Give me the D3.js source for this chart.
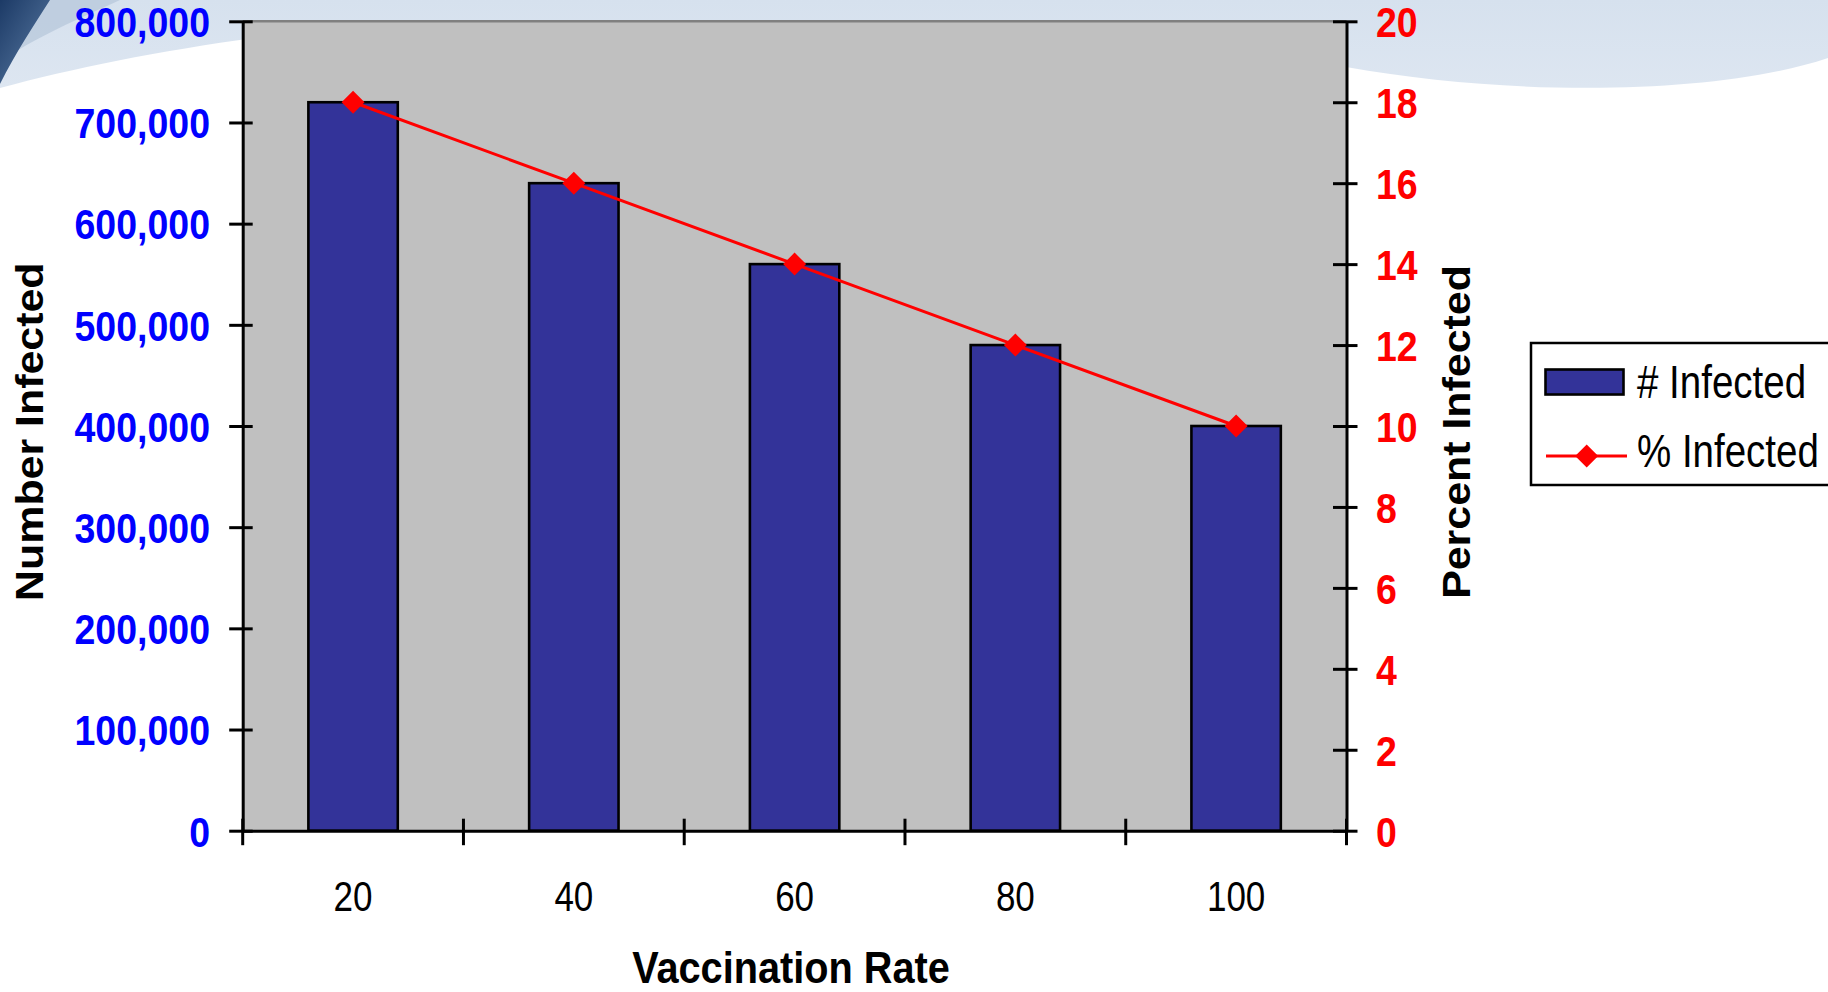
<!DOCTYPE html>
<html>
<head>
<meta charset="utf-8">
<script src="https://cdn.jsdelivr.net/npm/d3@7"></script>
<style>
  html, body { margin: 0; padding: 0; background: #ffffff; }
  svg { display: block; }
  text { font-family: "Liberation Sans", Arial, sans-serif; }
</style>
</head>
<body>
<svg id="chart" width="1828" height="992"></svg>
<script>
// Vaccination rate categories and the two series
const categories = ["20", "40", "60", "80", "100"];
const numberInfected = [720000, 640000, 560000, 480000, 400000];
const percentInfected = [18, 16, 14, 12, 10];
const leftTicks = [0, 100000, 200000, 300000, 400000, 500000, 600000, 700000, 800000];
const rightTicks = [0, 2, 4, 6, 8, 10, 12, 14, 16, 18, 20];
const seriesNames = ["# Infected", "% Infected"];

const W = 1828, H = 992;
const plot = { left: 242.7, right: 1346.5, top: 21.3, bottom: 830.7 };

const svg = d3.select("#chart");

// Slide backdrop: light blue swoosh along the top with a dark corner
const defs = svg.append("defs");
const cornerGrad = defs.append("linearGradient").attr("id", "cornerGrad")
  .attr("x1", "0").attr("y1", "0").attr("x2", "1").attr("y2", "1");
cornerGrad.append("stop").attr("offset", "0").attr("stop-color", "#1c3a66");
cornerGrad.append("stop").attr("offset", "1").attr("stop-color", "#5d7ea6");
const bandGrad = defs.append("linearGradient").attr("id", "bandGrad")
  .attr("x1", "0").attr("y1", "0").attr("x2", "0").attr("y2", "1");
bandGrad.append("stop").attr("offset", "0").attr("stop-color", "#d6e1ee");
bandGrad.append("stop").attr("offset", "1").attr("stop-color", "#dde6f1");

svg.append("rect").attr("width", W).attr("height", H).attr("fill", "#ffffff");
svg.append("path")
  .attr("d", "M0,0 H1828 V58 C1720,94 1520,98 1346,67 L1346,21 L420,21 C260,32 110,58 0,88 Z")
  .attr("fill", "url(#bandGrad)");
svg.append("path")
  .attr("d", "M0,0 H120 C80,18 30,40 0,62 Z")
  .attr("fill", "#b9c9dc").attr("opacity", 0.8);
svg.append("path")
  .attr("d", "M0,0 H50 C34,25 16,52 0,84 Z")
  .attr("fill", "url(#cornerGrad)");

// Scales
const x = d3.scaleBand().domain(categories).range([plot.left, plot.right]).padding(0);
const yLeft = d3.scaleLinear().domain([0, 800000]).range([plot.bottom, plot.top]);
const yRight = d3.scaleLinear().domain([0, 20]).range([plot.bottom, plot.top]);

// Plot area
svg.append("rect")
  .attr("x", plot.left).attr("y", plot.top)
  .attr("width", plot.right - plot.left).attr("height", plot.bottom - plot.top)
  .attr("fill", "#c0c0c0");
svg.append("line")
  .attr("x1", plot.left).attr("x2", plot.right)
  .attr("y1", plot.top).attr("y2", plot.top)
  .attr("stroke", "#808080").attr("stroke-width", 2.5);

// Bars
const barW = x.bandwidth() * 0.405;
svg.append("g").selectAll("rect")
  .data(categories.map((c, i) => ({ c, v: numberInfected[i] })))
  .join("rect")
  .attr("x", d => x(d.c) + (x.bandwidth() - barW) / 2)
  .attr("y", d => yLeft(d.v))
  .attr("width", barW)
  .attr("height", d => yLeft(0) - yLeft(d.v))
  .attr("fill", "#333399")
  .attr("stroke", "#000000")
  .attr("stroke-width", 2.6);

// Left axis (number infected)
const fsTick = 37.5, syTick = 1.14;
const tickOffset = 0.716 * fsTick * syTick / 2;
const gLeft = svg.append("g").attr("transform", `translate(${plot.left},0)`)
  .call(d3.axisLeft(yLeft).tickValues(leftTicks).tickFormat(d3.format(",")).tickSizeOuter(0));
gLeft.select(".domain").attr("stroke", "#000").attr("stroke-width", 3);
gLeft.selectAll(".tick line").attr("x1", 10).attr("x2", -13.5).attr("stroke", "#000").attr("stroke-width", 3);
gLeft.selectAll(".tick text")
  .attr("x", null).attr("dy", null)
  .attr("transform", `translate(-32.7,${tickOffset}) scale(1,${syTick})`)
  .attr("text-anchor", "end")
  .attr("fill", "#0000ff")
  .style("font-size", fsTick + "px").style("font-weight", "bold")
  .style("font-family", "'Liberation Sans', Arial, sans-serif");

// Right axis (percent infected)
const gRight = svg.append("g").attr("transform", `translate(${plot.right},0)`)
  .call(d3.axisRight(yRight).tickValues(rightTicks).tickSizeOuter(0));
gRight.select(".domain").attr("stroke", "#000").attr("stroke-width", 3);
gRight.selectAll(".tick line").attr("x1", -13.5).attr("x2", 11).attr("stroke", "#000").attr("stroke-width", 3);
gRight.selectAll(".tick text")
  .attr("x", null).attr("dy", null)
  .attr("transform", `translate(29.5,${tickOffset}) scale(1,${syTick})`)
  .attr("text-anchor", "start")
  .attr("fill", "#ff0000")
  .style("font-size", fsTick + "px").style("font-weight", "bold")
  .style("font-family", "'Liberation Sans', Arial, sans-serif");

// Bottom axis: labels centred on categories, cross ticks on category boundaries
const gBottom = svg.append("g").attr("transform", `translate(0,${plot.bottom})`)
  .call(d3.axisBottom(x).tickSize(0).tickSizeOuter(0));
gBottom.select(".domain").attr("stroke", "#000").attr("stroke-width", 3);
gBottom.selectAll(".tick text")
  .attr("y", null).attr("dy", null)
  .attr("transform", "translate(0,80) scale(1,1.23)")
  .attr("text-anchor", "middle")
  .attr("fill", "#000")
  .style("font-size", "35px").style("font-weight", "normal")
  .style("font-family", "'Liberation Sans', Arial, sans-serif");
const boundaries = d3.range(categories.length + 1).map(i => x.range()[0] + i * x.step());
gBottom.append("g").selectAll("line")
  .data(boundaries)
  .join("line")
  .attr("x1", d => d).attr("x2", d => d)
  .attr("y1", -12).attr("y2", 14.5)
  .attr("stroke", "#000").attr("stroke-width", 3);

// Percent line with diamond markers
const pts = categories.map((c, i) => [x(c) + x.bandwidth() / 2, yRight(percentInfected[i])]);
svg.append("path")
  .attr("d", d3.line()(pts))
  .attr("fill", "none").attr("stroke", "#ff0000").attr("stroke-width", 3);
const diamond = (r) => `M0,${-r} L${r},0 L0,${r} L${-r},0 Z`;
svg.append("g").selectAll("path")
  .data(pts)
  .join("path")
  .attr("transform", d => `translate(${d[0]},${d[1]})`)
  .attr("d", diamond(11.5))
  .attr("fill", "#ff0000");

// Axis titles
svg.append("text")
  .attr("transform", "translate(43.3,431.7) rotate(-90) scale(1.1,1)")
  .attr("text-anchor", "middle")
  .style("font-size", "39px").style("font-weight", "bold")
  .attr("fill", "#000")
  .text("Number Infected");
svg.append("text")
  .attr("transform", "translate(1470,432) rotate(-90) scale(1.1,1)")
  .attr("text-anchor", "middle")
  .style("font-size", "39px").style("font-weight", "bold")
  .attr("fill", "#000")
  .text("Percent Infected");
svg.append("text")
  .attr("transform", "translate(791,983) scale(1,1.1)")
  .attr("text-anchor", "middle")
  .style("font-size", "39.7px").style("font-weight", "bold")
  .attr("fill", "#000")
  .text("Vaccination Rate");

// Legend
const lg = svg.append("g");
lg.append("rect")
  .attr("x", 1531).attr("y", 343).attr("width", 320).attr("height", 142)
  .attr("fill", "#ffffff").attr("stroke", "#000").attr("stroke-width", 2.5);
lg.append("rect")
  .attr("x", 1545.5).attr("y", 369.5).attr("width", 78).attr("height", 25)
  .attr("fill", "#333399").attr("stroke", "#000").attr("stroke-width", 2.6);
lg.append("line")
  .attr("x1", 1546).attr("x2", 1627).attr("y1", 456).attr("y2", 456)
  .attr("stroke", "#ff0000").attr("stroke-width", 3);
lg.append("path")
  .attr("transform", "translate(1586.7,456)")
  .attr("d", diamond(11.5))
  .attr("fill", "#ff0000");
lg.selectAll("text.leg")
  .data(seriesNames)
  .join("text")
  .attr("class", "leg")
  .attr("transform", (d, i) => `translate(1637,${i === 0 ? 398.3 : 467.3}) scale(1,1.18)`)
  .style("font-size", "38.5px")
  .attr("fill", "#000")
  .text(d => d);
</script>
</body>
</html>
